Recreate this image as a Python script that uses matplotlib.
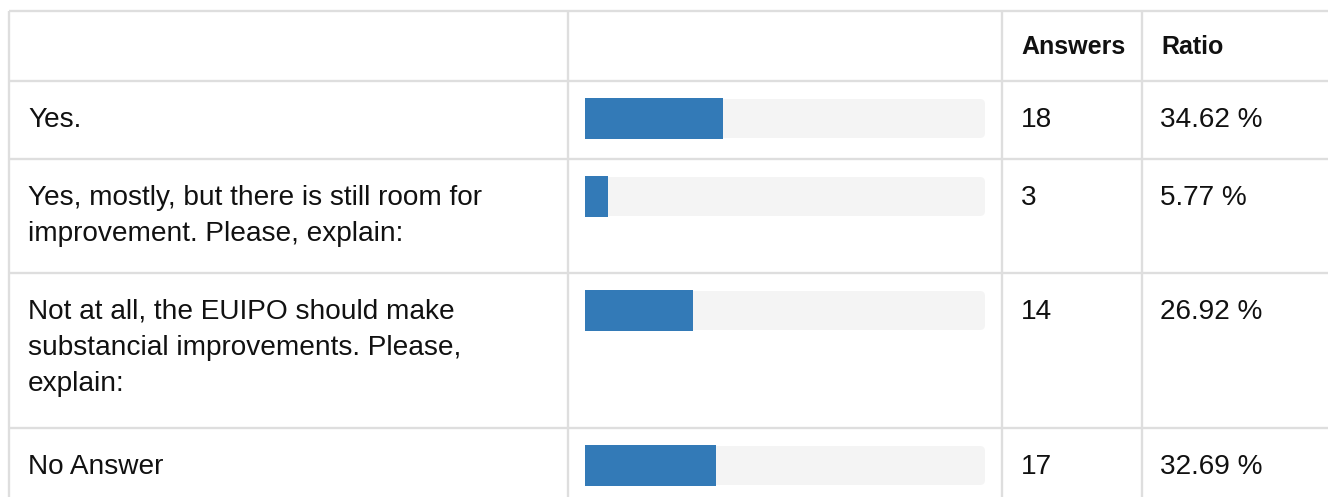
import matplotlib.pyplot as plt
from matplotlib.patches import FancyBboxPatch

plt.rcParams['font.family'] = ['Liberation Sans', 'DejaVu Sans']

# Table data
headers = ['', '', 'Answers', 'Ratio']
labels = ['Yes.',
          'Yes, mostly, but there is still room for\nimprovement. Please, explain:',
          'Not at all, the EUIPO should make\nsubstancial improvements. Please,\nexplain:',
          'No Answer']
answers = [18, 3, 14, 17]
ratios = [34.62, 5.77, 26.92, 32.69]

# Layout (pixels)
W, H = 1328, 497
colLines = [9, 568, 1002, 1142]
rowLines = [11, 81, 159, 273, 428]
barX0, barW, barH = 585, 400, 41
lineCol = '#dedede'
textCol = '#111111'
fs = 28 * 72 / 100   # body text, ~28px
fsHead = 25 * 72 / 100

fig = plt.figure(figsize=(W / 100, H / 100), dpi=100)
ax = fig.add_axes([0, 0, 1, 1])
ax.set_xlim(0, W)
ax.set_ylim(H, 0)
ax.axis('off')

# Grid lines
for y in rowLines:
    ax.plot([colLines[0], W], [y, y], color=lineCol, lw=1.7, solid_capstyle='butt')
for x in colLines:
    ax.plot([x, x], [rowLines[0], H], color=lineCol, lw=1.7, solid_capstyle='butt')

# Header
for x, h in zip(colLines, headers):
    if h:
        ax.text(x + 19, rowLines[0] + 43, h, fontsize=fsHead, fontweight='bold',
                color=textCol, va='baseline', ha='left')

# Rows
rowTops = rowLines[1:]
for top, lab, n, r in zip(rowTops, labels, answers, ratios):
    for i, line in enumerate(lab.split('\n')):
        ax.text(colLines[0] + 19, top + 46 + i * 36, line, fontsize=fs,
                color=textCol, va='baseline', ha='left')
    ax.text(colLines[2] + 19, top + 46, str(n), fontsize=fs, color=textCol,
            va='baseline', ha='left')
    ax.text(colLines[3] + 18, top + 46, '%.2f %%' % r, fontsize=fs, color=textCol,
            va='baseline', ha='left')
    # progress track
    ax.add_patch(FancyBboxPatch((barX0, top + 18), barW, barH - 2,
                                boxstyle='round,pad=0,rounding_size=5',
                                facecolor='#f4f4f4', edgecolor='none'))
    ax.barh(top + 17 + barH / 2, r / 100 * barW, left=barX0, height=barH,
            color='#337ab7', edgecolor='none')

fig.savefig('out.png', dpi=100)
